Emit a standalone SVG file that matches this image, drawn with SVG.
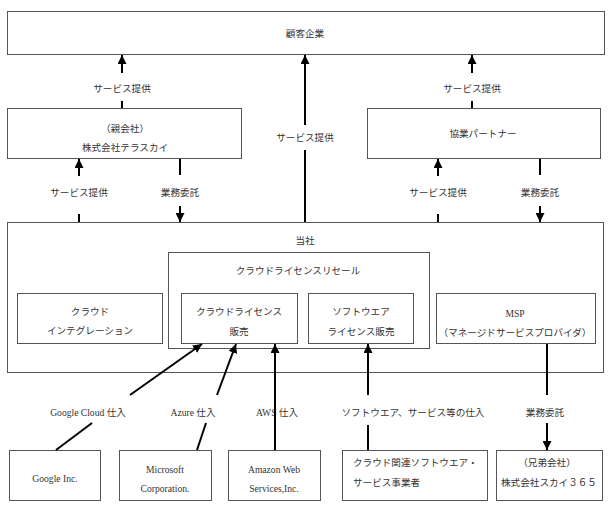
<svg xmlns="http://www.w3.org/2000/svg" width="610" height="505" viewBox="0 0 610 505">
<style>
.box{fill:#fff;stroke:#555;stroke-width:1}
.c{stroke:#000;stroke-width:2;fill:none}
.a{marker-end:url(#ah)}
text{font-family:"Liberation Serif","Noto Sans CJK JP",serif;font-size:9.6px;fill:#333;text-anchor:middle;dominant-baseline:central}
.l{text-anchor:start}
</style>
<defs>
<marker id="ah" markerUnits="userSpaceOnUse" markerWidth="9" markerHeight="9" refX="9" refY="4.5" orient="auto">
<path d="M0,0 L9,4.5 L0,9 z" fill="#000"/>
</marker>
</defs>
<rect width="610" height="505" fill="#fff"/>

<g id="customer"><rect class="box" x="7.5" y="11.5" width="597" height="43"/><text x="305" y="33">顧客企業</text></g>
<g id="parent"><rect class="box" x="7.5" y="108.5" width="234" height="50"/><text x="125" y="128">（親会社）</text><text x="125" y="147">株式会社テラスカイ</text></g>
<g id="partner"><rect class="box" x="367.5" y="108.5" width="233" height="50"/><text x="483" y="133">協業パートナー</text></g>

<g id="company"><rect class="box" x="7.5" y="222.5" width="596" height="150"/><text x="305" y="240">当社</text></g>
<g id="resale"><rect class="box" x="168.5" y="252.5" width="261" height="96"/><text x="298" y="270">クラウドライセンスリセール</text></g>
<g id="integration"><rect class="box" x="17.5" y="293.5" width="145" height="50"/><text x="90" y="311">クラウド</text><text x="90" y="330">インテグレーション</text></g>
<g id="cloudlicense"><rect class="box" x="181.5" y="293.5" width="116" height="50"/><text x="239" y="311">クラウドライセンス</text><text x="239" y="331">販売</text></g>
<g id="softlicense"><rect class="box" x="308.5" y="293.5" width="105" height="50"/><text x="361" y="311">ソフトウエア</text><text x="361" y="331">ライセンス販売</text></g>
<g id="msp"><rect class="box" x="436.5" y="293.5" width="159" height="50"/><text x="515" y="313">MSP</text><text x="515" y="332">（マネージドサービスプロバイダ）</text></g>

<g id="google"><rect class="box" x="9.5" y="450.5" width="91" height="50"/><text x="55" y="478">Google Inc.</text></g>
<g id="microsoft"><rect class="box" x="119.5" y="450.5" width="92" height="50"/><text x="165" y="469">Microsoft</text><text x="165" y="488">Corporation.</text></g>
<g id="amazon"><rect class="box" x="228.5" y="450.5" width="92" height="50"/><text x="274" y="469">Amazon Web</text><text x="274" y="488">Services,Inc.</text></g>
<g id="vendors"><rect class="box" x="342.5" y="450.5" width="145" height="50"/><text class="l" x="353" y="462">クラウド関連ソフトウエア・</text><text class="l" x="353" y="482">サービス事業者</text></g>
<g id="sister"><rect class="box" x="496.5" y="450.5" width="106" height="50"/><text x="547" y="462">（兄弟会社）</text><text x="549" y="482">株式会社スカイ３６５</text></g>

<g id="labels">
<text x="122" y="88">サービス提供</text>
<text x="472" y="88">サービス提供</text>
<text x="305" y="137">サービス提供</text>
<text x="79" y="192">サービス提供</text>
<text x="180" y="192">業務委託</text>
<text x="438" y="192">サービス提供</text>
<text x="540" y="192">業務委託</text>
<text x="88" y="412">Google Cloud 仕入</text>
<text x="193" y="412">Azure 仕入</text>
<text x="277" y="412">AWS 仕入</text>
<text x="413" y="412">ソフトウエア、サービス等の仕入</text>
<text x="545" y="412">業務委託</text>
</g>

<g id="connectors">
<line class="c" x1="122" y1="108" x2="122" y2="101"/>
<line class="c a" x1="122" y1="73" x2="122" y2="55"/>
<line class="c" x1="472" y1="108" x2="472" y2="101"/>
<line class="c a" x1="472" y1="73" x2="472" y2="55"/>
<line class="c" x1="305" y1="222" x2="305" y2="150"/>
<line class="c a" x1="305" y1="125" x2="305" y2="55"/>
<line class="c" x1="79" y1="222" x2="79" y2="214"/>
<line class="c a" x1="79" y1="176" x2="79" y2="159"/>
<line class="c" x1="180" y1="159" x2="180" y2="175"/>
<line class="c a" x1="180" y1="206" x2="180" y2="222"/>
<line class="c" x1="438" y1="222" x2="438" y2="214"/>
<line class="c a" x1="438" y1="176" x2="438" y2="159"/>
<line class="c" x1="540" y1="159" x2="540" y2="175"/>
<line class="c a" x1="540" y1="206" x2="540" y2="222"/>
<line class="c" x1="56" y1="450" x2="92" y2="423"/>
<line class="c a" x1="130" y1="395" x2="202" y2="344"/>
<line class="c" x1="197" y1="450" x2="206" y2="423"/>
<line class="c a" x1="217" y1="395" x2="236" y2="344"/>
<line class="c a" x1="275" y1="450" x2="275" y2="344"/>
<line class="c" x1="368" y1="450" x2="368" y2="425"/>
<line class="c a" x1="368" y1="395" x2="368" y2="344"/>
<line class="c" x1="547" y1="344" x2="547" y2="395"/>
<line class="c a" x1="547" y1="423" x2="547" y2="450"/>
</g>
</svg>
